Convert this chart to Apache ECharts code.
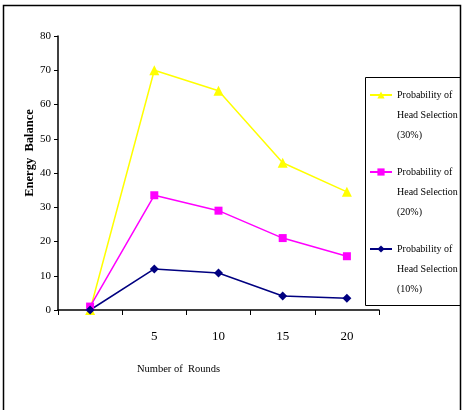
<!DOCTYPE html>
<html>
<head>
<meta charset="utf-8">
<script src="https://cdn.jsdelivr.net/npm/echarts@6/dist/echarts.min.js"></script>
<style>
  html, body { margin: 0; padding: 0; background: #fff; }
  #chart { width: 463px; height: 410px; }
</style>
</head>
<body>
<div id="chart"></div>
<script>
// 横轴类别（第一个无标签）
const rounds = ["", "5", "10", "15", "20"];
const names = [
    "Probability of Head Selection (30%)",
    "Probability of Head Selection (20%)",
    "Probability of Head Selection (10%)"
];
const p30 = [0, 70, 64, 43, 34.5];
const p20 = [1, 33.5, 29, 21, 15.7];
const p10 = [0, 12, 10.8, 4.1, 3.4];

const chart = echarts.init(document.getElementById("chart"));
const font = "Liberation Serif";

function makeSeries(name, data, color, symbol, size) {
    return {
        name: name,
        type: "line",
        data: data,
        symbol: symbol,
        symbolSize: size,
        showSymbol: true,
        lineStyle: { color: color, width: 1.5 },
        itemStyle: { color: color },
        emphasis: { disabled: true },
        animation: false
    };
}

chart.setOption({
    animation: false,
    grid: { left: 58, right: 84, top: 36, bottom: 100 },
    graphic: [
        {   // 外框
            type: "rect",
            shape: { x: 3.5, y: 5.5, width: 457, height: 410 },
            style: { fill: "none", stroke: "#000", lineWidth: 1.5 }
        },
        {   // 图例框
            type: "rect",
            shape: { x: 365.5, y: 77.5, width: 95, height: 228 },
            style: { fill: "none", stroke: "#000", lineWidth: 1 }
        }
    ],
    legend: {
        orient: "vertical",
        left: 364,
        top: 40,
        itemWidth: 22,
        itemHeight: 9,
        itemGap: -23,
        selectedMode: false,
        data: names,
        // 前面加两行空行，让图标对齐第一行文字
        formatter: function (n) {
            return "{s| }\n{s| }\n" + n.replace(" Head", "\nHead").replace(" (", "\n(");
        },
        textStyle: {
            fontFamily: font,
            fontSize: 10,
            color: "#000",
            lineHeight: 20,
            rich: { s: { fontSize: 10, lineHeight: 20 } }
        }
    },
    xAxis: {
        type: "category",
        data: rounds,
        boundaryGap: true,
        name: "Number of  Rounds",
        nameLocation: "middle",
        nameGap: 54,
        nameTextStyle: { fontFamily: font, fontSize: 10.5, color: "#000", padding: [0, 80, 0, 0] },
        axisLine: { lineStyle: { color: "#000", width: 1.5 } },
        axisTick: { show: true, length: 5, lineStyle: { color: "#000" } },
        axisLabel: { fontFamily: font, fontSize: 13, color: "#000", margin: 20 },
        splitLine: { show: false }
    },
    yAxis: {
        type: "value",
        min: 0,
        max: 80,
        interval: 10,
        name: "Energy  Balance",
        nameLocation: "middle",
        nameGap: 22,
        nameMoveOverlap: false,
        nameRotate: 90,
        nameTextStyle: { fontFamily: font, fontSize: 12.5, fontWeight: "bold", color: "#000", padding: [0, 0, 0, 40] },
        axisLine: { show: true, lineStyle: { color: "#000", width: 1.5 } },
        axisTick: { show: true, length: 4, lineStyle: { color: "#000" } },
        axisLabel: { fontFamily: font, fontSize: 11, color: "#000", margin: 7 },
        splitLine: { show: false }
    },
    series: [
        makeSeries(names[0], p30, "#FFFF00", "triangle", 10),
        makeSeries(names[1], p20, "#FF00FF", "rect", 8),
        makeSeries(names[2], p10, "#000080", "diamond", 9)
    ]
});

window.addEventListener("resize", function () {
    chart.resize();
});
</script>
</body>
</html>
